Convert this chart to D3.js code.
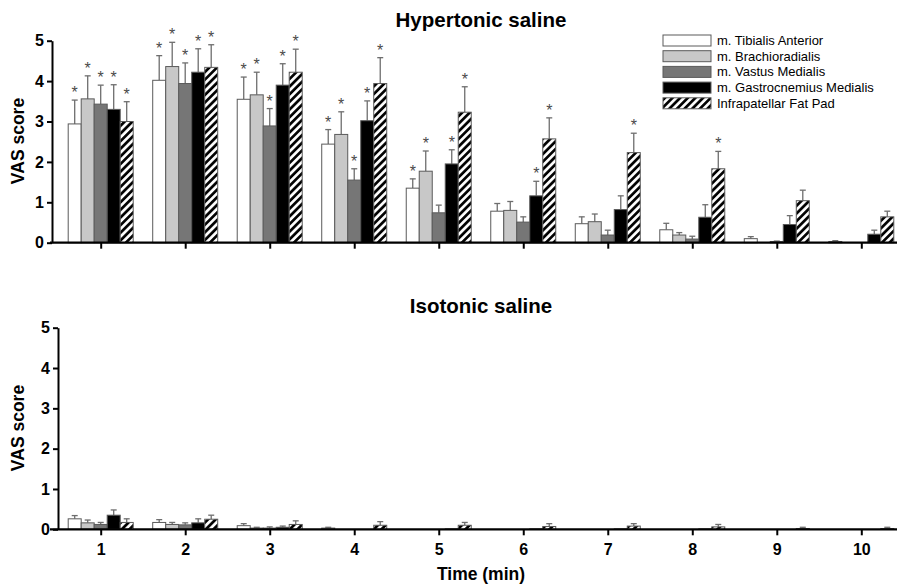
<!DOCTYPE html>
<html>
<head>
<meta charset="utf-8">
<script src="https://cdn.jsdelivr.net/npm/d3@7"></script>
<style>
  body { margin: 0; background: #fff; }
  svg { display: block; font-family: "Liberation Sans", Arial, sans-serif; }
</style>
</head>
<body>
<div id="chart"></div>
<script>
// time points (min)
const times = [1, 2, 3, 4, 5, 6, 7, 8, 9, 10];
const seriesNames = ['m. Tibialis Anterior', 'm. Brachioradialis', 'm. Vastus Medialis',
  'm. Gastrocnemius Medialis', 'Infrapatellar Fat Pad'];
const yTicks = [0, 1, 2, 3, 4, 5];

// Hypertonic saline: mean VAS per series (rows follow seriesNames)
const hyperMean = [
  [2.94, 4.02, 3.55, 2.44, 1.35, 0.78, 0.47, 0.32, 0.10, 0.03],
  [3.56, 4.36, 3.66, 2.68, 1.77, 0.80, 0.52, 0.19, 0.00, 0.00],
  [3.43, 3.94, 2.89, 1.55, 0.74, 0.51, 0.19, 0.09, 0.03, 0.00],
  [3.30, 4.22, 3.90, 3.02, 1.95, 1.16, 0.82, 0.63, 0.45, 0.21],
  [3.00, 4.34, 4.22, 3.94, 3.23, 2.57, 2.23, 1.83, 1.04, 0.64]
];
const hyperErr = [
  [0.59, 0.61, 0.55, 0.36, 0.23, 0.19, 0.17, 0.16, 0.05, 0.02],
  [0.57, 0.60, 0.56, 0.56, 0.50, 0.22, 0.19, 0.06, 0.00, 0.00],
  [0.47, 0.51, 0.43, 0.28, 0.19, 0.13, 0.12, 0.07, 0.01, 0.00],
  [0.61, 0.58, 0.53, 0.49, 0.35, 0.36, 0.34, 0.31, 0.22, 0.10],
  [0.49, 0.56, 0.57, 0.64, 0.63, 0.52, 0.48, 0.43, 0.26, 0.14]
];
// significance stars (1 = star)
const hyperSig = [
  [1, 1, 1, 1, 1, 0, 0, 0, 0, 0],
  [1, 1, 1, 1, 1, 0, 0, 0, 0, 0],
  [1, 1, 1, 1, 0, 0, 0, 0, 0, 0],
  [1, 1, 1, 1, 1, 1, 0, 0, 0, 0],
  [1, 1, 1, 1, 1, 1, 1, 1, 0, 0]
];

// Isotonic saline
const isoMean = [
  [0.26, 0.17, 0.09, 0.03, 0.00, 0.00, 0.00, 0.00, 0.00, 0.00],
  [0.16, 0.12, 0.03, 0.00, 0.00, 0.00, 0.00, 0.00, 0.00, 0.00],
  [0.12, 0.11, 0.03, 0.00, 0.00, 0.00, 0.00, 0.00, 0.00, 0.00],
  [0.35, 0.16, 0.05, 0.00, 0.01, 0.01, 0.01, 0.01, 0.00, 0.00],
  [0.17, 0.25, 0.12, 0.10, 0.10, 0.07, 0.08, 0.06, 0.02, 0.02]
];
const isoErr = [
  [0.08, 0.07, 0.05, 0.02, 0.00, 0.00, 0.00, 0.00, 0.00, 0.00],
  [0.07, 0.05, 0.02, 0.00, 0.00, 0.00, 0.00, 0.00, 0.00, 0.00],
  [0.05, 0.05, 0.03, 0.00, 0.00, 0.00, 0.00, 0.00, 0.00, 0.00],
  [0.13, 0.10, 0.03, 0.00, 0.00, 0.00, 0.00, 0.00, 0.00, 0.00],
  [0.09, 0.10, 0.09, 0.09, 0.07, 0.07, 0.06, 0.06, 0.03, 0.03]
];

const width = 897, height = 585;
const fills = ['#ffffff', '#c8c8c8', '#767676', '#000000', 'url(#hatch)'];
const barW = 13;

const svg = d3.select('#chart').append('svg')
  .attr('width', width)
  .attr('height', height);

// diagonal hatch for the fat pad bars
const defs = svg.append('defs');
const pat = defs.append('pattern')
  .attr('id', 'hatch')
  .attr('patternUnits', 'userSpaceOnUse')
  .attr('width', 5.4)
  .attr('height', 5.4)
  .attr('patternTransform', 'rotate(45)');
pat.append('rect').attr('width', 5.4).attr('height', 5.4).attr('fill', '#fff');
pat.append('line')
  .attr('x1', 1.4).attr('y1', 0).attr('x2', 1.4).attr('y2', 5.4)
  .attr('stroke', '#000').attr('stroke-width', 2.7);

const x = d3.scaleLinear().domain([1, 10]).range([100.7, 861.3]);
const offset = d3.scaleLinear().domain([0, 4]).range([-26, 26]);

function drawPanel(opts) {
  const y = d3.scaleLinear().domain([0, 5]).range([opts.y0, opts.y5]);
  const g = svg.append('g');

  // title
  g.append('text')
    .attr('x', 481)
    .attr('y', opts.titleY)
    .attr('text-anchor', 'middle')
    .style('font-size', '20.5px')
    .style('font-weight', 'bold')
    .text(opts.title);

  // y label
  g.append('text')
    .attr('transform', `translate(24,${opts.labelY}) rotate(-90)`)
    .attr('text-anchor', 'middle')
    .style('font-size', '17.5px')
    .style('font-weight', 'bold')
    .text('VAS score');

  // bars, error bars and stars
  opts.mean.forEach((row, s) => {
    const sg = g.append('g');
    const data = row.map((v, i) => ({ t: times[i], v: v, e: opts.err[s][i], sig: opts.sig ? opts.sig[s][i] : 0 }));

    // error bars first so they sit behind the bar outline
    const eb = sg.selectAll('.err').data(data.filter(d => d.e > 0)).enter().append('g');
    eb.append('line')
      .attr('x1', d => x(d.t) + offset(s))
      .attr('x2', d => x(d.t) + offset(s))
      .attr('y1', d => y(d.v))
      .attr('y2', d => y(d.v + d.e))
      .attr('stroke', '#6e6e6e')
      .attr('stroke-width', 1.3);
    eb.append('line')
      .attr('x1', d => x(d.t) + offset(s) - 3)
      .attr('x2', d => x(d.t) + offset(s) + 3)
      .attr('y1', d => y(d.v + d.e))
      .attr('y2', d => y(d.v + d.e))
      .attr('stroke', '#6e6e6e')
      .attr('stroke-width', 1.3);

    sg.selectAll('rect').data(data.filter(d => d.v > 0)).enter().append('rect')
      .attr('x', d => x(d.t) + offset(s) - barW / 2)
      .attr('y', d => y(d.v))
      .attr('width', barW)
      .attr('height', d => y(0) - y(d.v))
      .attr('fill', fills[s])
      .attr('stroke', '#5a5a5a')
      .attr('stroke-width', 1);

    sg.selectAll('.star').data(data.filter(d => d.sig)).enter().append('text')
      .attr('x', d => x(d.t) + offset(s))
      .attr('y', d => y(d.v + d.e) - 2)
      .attr('text-anchor', 'middle')
      .attr('fill', '#4a4a4a')
      .style('font-size', '16px')
      .text('*');
  });

  // y axis
  const yAxis = g.append('g')
    .attr('transform', `translate(${opts.axisX},0)`)
    .call(d3.axisLeft(y).tickValues(yTicks).tickSize(5).tickSizeOuter(0).tickPadding(3)
      .tickFormat(d3.format('d')));
  yAxis.select('.domain').attr('stroke-width', 2);
  yAxis.selectAll('.tick line').attr('stroke-width', 2);
  yAxis.selectAll('.tick text')
    .style('font-size', '16px')
    .style('font-weight', 'bold')
    .style('font-family', '"Liberation Sans", Arial, sans-serif')
    .attr('fill', '#000');

  // x axis
  const xAxis = g.append('g')
    .attr('transform', `translate(0,${opts.y0})`)
    .call(d3.axisBottom(x).tickValues(times).tickSize(6).tickSizeOuter(0).tickPadding(8)
      .tickFormat(opts.showX ? d3.format('d') : ''));
  xAxis.select('.domain').remove();
  xAxis.append('line')
    .attr('x1', 50).attr('x2', width)
    .attr('stroke', '#000').attr('stroke-width', 2.2);
  xAxis.selectAll('.tick line').attr('stroke-width', 2);
  xAxis.selectAll('.tick text')
    .style('font-size', '16px')
    .style('font-weight', 'bold')
    .style('font-family', '"Liberation Sans", Arial, sans-serif')
    .attr('fill', '#000');
}

drawPanel({
  title: 'Hypertonic saline', titleY: 27, labelY: 141,
  y0: 242.7, y5: 40.7, axisX: 52,
  mean: hyperMean, err: hyperErr, sig: hyperSig, showX: false
});

drawPanel({
  title: 'Isotonic saline', titleY: 313, labelY: 428,
  y0: 529.3, y5: 327.7, axisX: 58,
  mean: isoMean, err: isoErr, sig: null, showX: true
});

// x axis title
svg.append('text')
  .attr('x', 481)
  .attr('y', 580)
  .attr('text-anchor', 'middle')
  .style('font-size', '17.5px')
  .style('font-weight', 'bold')
  .text('Time (min)');

// legend
const legend = svg.append('g').attr('transform', 'translate(663,35)');
legend.append('rect')
  .attr('x', -6).attr('y', -5).attr('width', 220).attr('height', 86)
  .attr('fill', '#fff');
const item = legend.selectAll('.item').data(seriesNames).enter().append('g')
  .attr('transform', (d, i) => `translate(0,${i * 15.7})`);
item.append('rect')
  .attr('width', 48).attr('height', 11)
  .attr('fill', (d, i) => fills[i])
  .attr('stroke', '#5a5a5a')
  .attr('stroke-width', 1);
item.append('text')
  .attr('x', 54)
  .attr('y', 10)
  .style('font-size', '13px')
  .text(d => d);
</script>
</body>
</html>
